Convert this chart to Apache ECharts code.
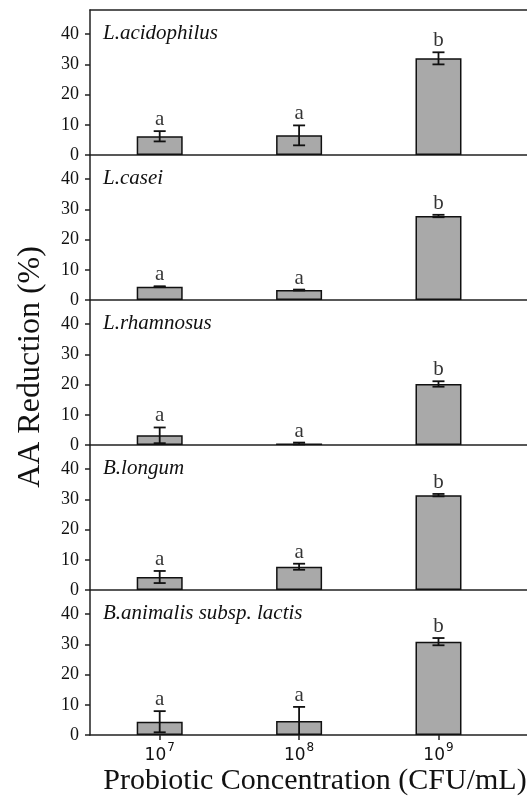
<!DOCTYPE html>
<html>
<head>
<meta charset="utf-8">
<script src="https://cdn.jsdelivr.net/npm/echarts@6/dist/echarts.min.js"></script>
<style>html,body{margin:0;padding:0;background:#fff;overflow:hidden;width:527px;height:798px}#c{width:570px;height:798px}</style>
</head>
<body>
<div id="c"></div>
<script>
const categories = ['10\u2077', '10\u2078', '10\u2079'];
const strains = ['L.acidophilus', 'L.casei', 'L.rhamnosus', 'B.longum', 'B.animalis subsp. lactis'];
const means = [
  [6.2, 6.5, 32.0],
  [4.4, 3.3, 27.8],
  [3.2, 0.5, 20.2],
  [4.3, 7.7, 31.4],
  [4.4, 4.6, 30.9]
];
const errors = [
  [1.7, 3.3, 2.0],
  [0.15, 0.15, 0.4],
  [2.6, 0.3, 0.9],
  [2.0, 1.0, 0.4],
  [3.5, 4.7, 1.2]
];
const letters = [
  ['a', 'a', 'b'],
  ['a', 'a', 'b'],
  ['a', 'a', 'b'],
  ['a', 'a', 'b'],
  ['a', 'a', 'b']
];
const yTicks = [0, 10, 20, 30, 40];
const xPos = [0, 1, 2];

const SERIF = '"Liberation Serif", "Times New Roman", serif';
const SANS = '"DejaVu Sans", sans-serif';
const INK = '#111';
const panelTop = 10, panelH = 145, left = 90, width = 460;
const xMin = -0.5, xMax = 2.8;
const n = strains.length;
const supMap = {'\u2070':'0','\u00b9':'1','\u00b2':'2','\u00b3':'3','\u2074':'4','\u2075':'5','\u2076':'6','\u2077':'7','\u2078':'8','\u2079':'9'};
function tickText(c) {
  const base = c.slice(0, 2);
  const exp = c.slice(2).split('').map(ch => supMap[ch] || ch).join('');
  return '{b|' + base + '}{s|' + exp + '}';
}

const grid = [], xAxis = [], yAxis = [], series = [], title = [];
const axisLineStyle = {color: '#222', width: 1.5};
for (let i = 0; i < n; i++) {
  const top = panelTop + panelH * i;
  const last = i === n - 1;
  grid.push({left: left, top: top, width: width, height: panelH, show: false,
    outerBoundsMode: 'none', containLabel: false});
  xAxis.push({
    type: 'value', gridIndex: i, min: xMin, max: xMax, position: 'bottom',
    axisLine: {show: true, onZero: false, lineStyle: axisLineStyle},
    splitLine: {show: false},
    axisTick: {show: last, customValues: xPos, length: 5, lineStyle: axisLineStyle},
    axisLabel: {show: last, customValues: xPos, margin: 7,
      formatter: v => tickText(categories[Math.round(v)]),
      rich: {
        b: {fontFamily: SANS, fontSize: 17, color: INK, lineHeight: 22, verticalAlign: 'bottom'},
        s: {fontFamily: SANS, fontSize: 12, color: INK, lineHeight: 22, verticalAlign: 'top', padding: [0, 0, 0, 1]}
      }}
  });
  yAxis.push({
    type: 'value', gridIndex: i, min: 0, max: 48,
    axisLine: {show: true, onZero: false, lineStyle: axisLineStyle},
    splitLine: {show: false},
    axisTick: {show: true, customValues: yTicks, length: 5, lineStyle: axisLineStyle},
    axisLabel: {customValues: yTicks, margin: 11, fontFamily: SERIF, fontSize: 18, color: INK}
  });
  title.push({
    text: strains[i], left: 103, top: top + 13, padding: 0,
    textStyle: {fontFamily: SERIF, fontStyle: 'italic', fontWeight: 'normal', fontSize: 21, color: INK}
  });
  series.push({
    type: 'bar', xAxisIndex: i, yAxisIndex: i, barWidth: 46,
    data: means[i].map((v, j) => [xPos[j], v]),
    itemStyle: {color: '#a9a9a9', borderColor: INK, borderWidth: 1.5},
    z: 2
  });
  series.push({
    type: 'custom', xAxisIndex: i, yAxisIndex: i, z: 5, clip: false,
    data: means[i].map((v, j) => [xPos[j], v, errors[i][j]]),
    renderItem: function (params, api) {
      const x = api.value(0), v = api.value(1), e = api.value(2);
      const hi = api.coord([x, v + e]);
      const lo = api.coord([x, Math.max(v - e, 0)]);
      const lo2 = api.coord([x, v - e]);
      const cap = 6;
      const st = {stroke: INK, lineWidth: 1.8};
      const ch = [
        {type: 'line', shape: {x1: hi[0], y1: hi[1], x2: lo[0], y2: lo[1]}, style: st},
        {type: 'line', shape: {x1: hi[0] - cap, y1: hi[1], x2: hi[0] + cap, y2: hi[1]}, style: st}
      ];
      if (v - e >= 0) ch.push({type: 'line', shape: {x1: lo2[0] - cap, y1: lo2[1], x2: lo2[0] + cap, y2: lo2[1]}, style: st});
      return {type: 'group', children: ch};
    }
  });
  series.push({
    type: 'scatter', xAxisIndex: i, yAxisIndex: i, symbolSize: 0, z: 6,
    data: means[i].map((v, j) => [xPos[j], v + errors[i][j]]),
    label: {show: true, position: 'top', distance: 1,
      formatter: p => letters[i][p.dataIndex],
      fontFamily: SERIF, fontSize: 21, color: '#000'}
  });
}
xAxis.push({
  type: 'value', gridIndex: 0, min: xMin, max: xMax, position: 'top',
  axisLine: {show: true, onZero: false, lineStyle: axisLineStyle},
  splitLine: {show: false}, axisTick: {show: false}, axisLabel: {show: false}
});

const chart = echarts.init(document.getElementById('c'), null, {renderer: 'canvas'});
chart.setOption({
  animation: false,
  backgroundColor: '#fff',
  title: title,
  grid: grid, xAxis: xAxis, yAxis: yAxis, series: series,
  graphic: [
    {type: 'text', x: 31, y: 367, rotation: Math.PI / 2,
      style: {text: 'AA Reduction (%)', fontFamily: SERIF, fontSize: 32, fill: INK,
        textAlign: 'center', textVerticalAlign: 'middle'}},
    {type: 'text', x: 315, y: 781,
      style: {text: 'Probiotic Concentration (CFU/mL)', fontFamily: SERIF, fontSize: 30, fill: INK,
        textAlign: 'center', textVerticalAlign: 'middle'}}
  ]
});
</script>
</body>
</html>
